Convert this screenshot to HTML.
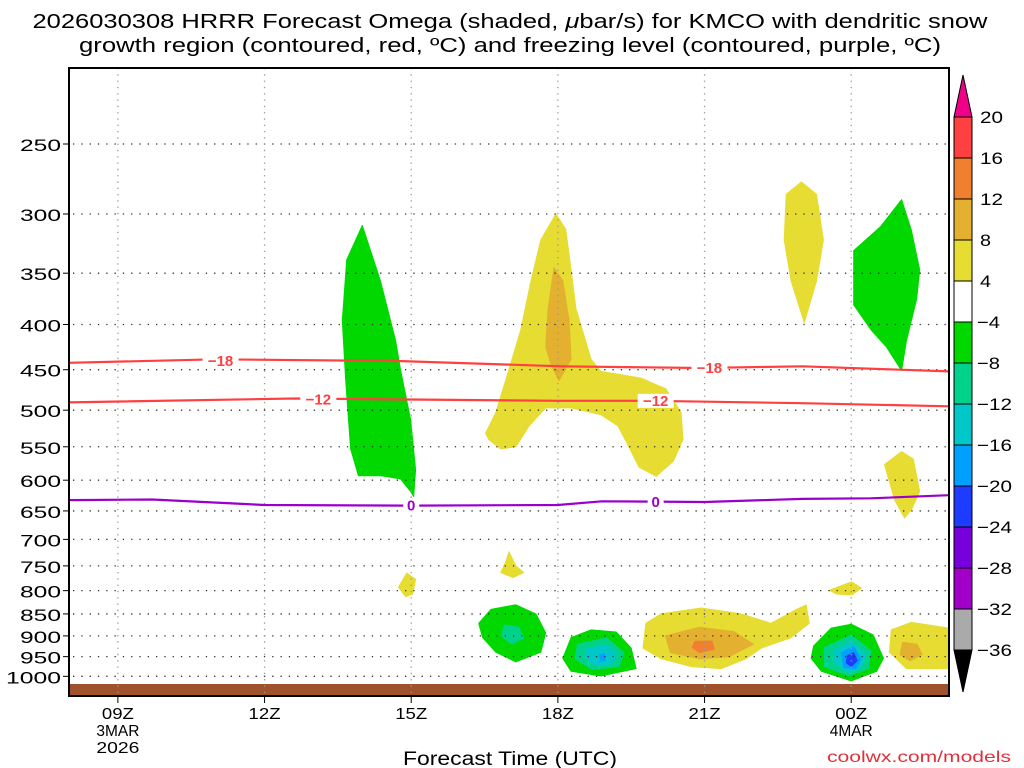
<!DOCTYPE html>
<html><head><meta charset="utf-8">
<style>
html,body{margin:0;padding:0;background:#fff;}
svg{display:block;font-family:"Liberation Sans",sans-serif;}
</style></head>
<body>
<svg id="chart" width="1024" height="768" viewBox="0 0 1024 768" xmlns="http://www.w3.org/2000/svg">
  <g font-size="20" fill="#000" text-anchor="middle">
    <text x="510" y="28" textLength="955" lengthAdjust="spacingAndGlyphs">2026030308 HRRR Forecast Omega (shaded, <tspan font-style="italic">μ</tspan>bar/s) for KMCO with dendritic snow</text>
    <text x="510" y="52" textLength="862" lengthAdjust="spacingAndGlyphs">growth region (contoured, red, ºC) and freezing level (contoured, purple, ºC)</text>
  </g>
  <g id="shades"></g>
  <rect x="69" y="684" width="880" height="12" fill="#a0522d"/>
  <g id="grid"></g>
  <g id="lines"></g>
  <rect x="69" y="68" width="880" height="628" fill="none" stroke="#000" stroke-width="2"/>
  <g id="axes" font-size="17" fill="#000"></g>
  <text x="510" y="765" font-size="19" text-anchor="middle" textLength="214" lengthAdjust="spacingAndGlyphs">Forecast Time (UTC)</text>
  <text x="1011" y="762" font-size="16" fill="#e0303c" text-anchor="end" textLength="184" lengthAdjust="spacingAndGlyphs">coolwx.com/models</text>
  <g id="cbar" font-size="17"></g>
</svg>
<script>
const NS='http://www.w3.org/2000/svg';
// ---- data ----
const pressureTicks=[250,300,350,400,450,500,550,600,650,700,750,800,850,900,950,1000];
const timeTicks=[9,12,15,18,21,24];
const timeLabels=[['09Z','3MAR','2026'],['12Z'],['15Z'],['18Z'],['21Z'],['00Z','4MAR']];
const lineHours=[8,11,14.8,18.06,20.9,23,26];
const minus18P=[442,438,440,446,448,446,452];
const minus12Hours=[8,12.6,18.06,19.9,23,26];
const minus12P=[490,485,488,488,491,495];
const freezeHours=[8,9.7,12,15,18,18.9,21,23,24.4,26];
const freezeP=[632,631,640,641,640,634,635,630,629,624];
const lineLabels=[['-18',11.1,440,'#ff4040'],['-18',21.1,448,'#ff4040'],['-12',13.1,486,'#ff4040'],['-12',20.0,488,'#ff4040'],['0',15,641,'#9900cc'],['0',20.0,635,'#9900cc']];
const cbLevels=['20','16','12','8','4','-4','-8','-12','-16','-20','-24','-28','-32','-36'];
const cbColors=['#ff4040','#f08030','#e3b030','#e6dc32','#ffffff','#00d800','#00d28c','#00c8c8','#00a0ff','#1e3cff','#7800dc','#a000c8','#aaaaaa'];
const C={y:'#e6dc32',o:'#e3b030',r:'#f08030',g:'#00d800',t:'#00d28c',c:'#00c8c8',b:'#00a0ff',d:'#1e3cff'};
const blobs=[
 ['g',[[14.0,309],[14.37,357],[14.68,417],[14.78,450],[14.99,513],[15.09,584],[15.05,626],[14.99,618],[14.78,598],[14.37,593],[13.92,593],[13.76,553],[13.66,463],[13.59,396],[13.68,338]]],
 ['y',[[17.96,300],[18.16,312],[18.27,347],[18.37,384],[18.68,438],[18.88,452],[19.70,460],[20.21,473],[20.52,503],[20.56,540],[20.36,571],[20.01,594],[19.66,580],[19.43,547],[19.23,521],[18.88,506],[18.27,497],[17.75,497],[17.41,521],[17.14,550],[16.83,553],[16.59,540],[16.52,531],[16.73,503],[16.93,463],[17.24,406],[17.45,357],[17.65,321]]],
 ['o',[[17.92,345],[18.10,357],[18.23,396],[18.27,438],[18.02,463],[17.86,444],[17.75,424],[17.80,384]]],
 ['y',[[22.98,276],[23.29,285],[23.43,321],[23.29,357],[23.04,398],[22.77,357],[22.63,321],[22.67,285]]],
 ['g',[[25.03,289],[25.23,313],[25.40,347],[25.34,374],[25.13,417],[25.03,451],[24.72,424],[24.41,406],[24.05,380],[24.05,330],[24.6,310]]],
 ['y',[[25.03,557],[25.27,568],[25.40,618],[25.23,648],[25.09,662],[24.89,632],[24.68,576]]],
 ['y',[[14.91,764],[15.09,777],[15.03,807],[14.89,813],[14.74,793]]],
 ['y',[[17.0,723],[17.14,750],[17.30,763],[17.08,773],[16.83,763],[16.93,743]]],
 ['y',[[23.55,799],[24.01,782],[24.21,795],[24.01,809],[23.70,807]]],
 ['g',[[16.38,871],[16.63,840],[17.14,830],[17.55,850],[17.75,893],[17.65,939],[17.14,963],[16.73,939],[16.46,904]]],
 ['t',[[16.9,875],[17.2,880],[17.3,905],[17.05,920],[16.85,900]]],
 ['g',[[18.27,904],[18.68,886],[19.19,891],[19.50,929],[19.60,980],[18.88,999],[18.27,987],[18.10,954]]],
 ['t',[[18.4,920],[19.0,905],[19.35,940],[19.25,975],[18.7,982],[18.35,955]]],
 ['c',[[18.6,930],[19.0,922],[19.2,945],[19.1,968],[18.75,972],[18.55,950]]],
 ['b',[[18.85,945],[18.95,943],[18.97,960],[18.87,962]]],
 ['y',[[19.80,871],[20.11,850],[20.93,837],[21.75,850],[22.36,871],[22.88,840],[23.08,830],[23.14,871],[22.77,904],[22.16,929],[21.85,955],[21.34,980],[20.73,975],[20.11,955],[19.74,929]]],
 ['o',[[20.2,900],[20.9,880],[21.6,890],[22.0,920],[21.5,950],[20.9,955],[20.3,940]]],
 ['r',[[20.8,913],[21.15,912],[21.2,932],[20.9,940],[20.75,928]]],
 ['g',[[23.23,924],[23.59,882],[24.0,873],[24.45,898],[24.66,954],[24.52,987],[24.0,1012],[23.39,987],[23.18,954]]],
 ['t',[[23.45,928],[24.0,898],[24.4,935],[24.35,980],[23.95,998],[23.45,975]]],
 ['c',[[23.65,935],[24.0,912],[24.3,945],[24.2,978],[23.95,990],[23.65,965]]],
 ['b',[[23.8,940],[24.05,925],[24.2,955],[24.1,980],[23.85,978]]],
 ['d',[[23.92,948],[24.05,940],[24.12,960],[24.0,975],[23.9,965]]],
 ['y',[[24.82,886],[25.23,869],[26,882],[26,980],[25.13,980],[24.78,939]]],
 ['o',[[25.05,915],[25.35,920],[25.45,945],[25.2,960],[25.0,945]]]
];
// ---- axes ----
const X0=69,X1=949,H0=8,H1=26;
function xs(h){return X0+(h-H0)*(X1-X0)/(H1-H0);}
function ys(p){return 144+384*Math.log(p/250);}
function mk(tag,attrs,parent){const e=document.createElementNS(NS,tag);for(const k in attrs)e.setAttribute(k,attrs[k]);parent.appendChild(e);return e;}
const shades=document.getElementById('shades');
blobs.forEach((b,i)=>{
  const pts=b[1].map(q=>xs(q[0]).toFixed(1)+','+ys(q[1]).toFixed(1)).join(' ');
  const el=mk('polygon',{points:pts,fill:C[b[0]],'stroke':C[b[0]],'stroke-width':'1','stroke-linejoin':'round'},shades);
  
  
});
const grid=document.getElementById('grid'),axes=document.getElementById('axes');
pressureTicks.forEach(p=>{
  const y=ys(p);
  const l=mk('line',{x1:X0+4,x2:X1,y1:y,y2:y,stroke:'#333','stroke-width':'1.3','stroke-dasharray':'1.3,7'},grid);
  
  
  mk('line',{x1:X0-6,x2:X0,y1:y,y2:y,stroke:'#000'},axes);
  const s=String(p);
  const t=mk('text',{x:X0-8,y:y+7,'text-anchor':'end',textLength:s.length*14-1,lengthAdjust:'spacingAndGlyphs'},axes);
  t.textContent=s;
  
  
});
timeTicks.forEach((h,i)=>{
  const x=xs(h);
  const l=mk('line',{x1:x,x2:x,y1:68,y2:696,stroke:'#999','stroke-width':'1.3','stroke-dasharray':'1.3,5'},grid);
  
  
  mk('line',{x1:x,x2:x,y1:696,y2:703,stroke:'#000'},axes);
  timeLabels[i].forEach((s,j)=>{
    const t=mk('text',{x:x,y:719+j*17,'text-anchor':'middle','font-size':'16',textLength:s.length*11-1,lengthAdjust:'spacingAndGlyphs'},axes);
    t.textContent=s;
    
    
  });
});
const lines=document.getElementById('lines');
function drawLine(hs,ps,col,name){
  const el=mk('polyline',{points:hs.map((h,i)=>xs(h).toFixed(1)+','+ys(ps[i]).toFixed(1)).join(' '),fill:'none',stroke:col,'stroke-width':'2.2'},lines);
  
  
}
drawLine(lineHours,minus18P,'#ff4040','minus18-contour');
drawLine(minus12Hours,minus12P,'#ff4040','minus12-contour');
drawLine(freezeHours,freezeP,'#9900cc','freezing-level-contour');
lineLabels.forEach(L=>{
  const x=xs(L[1]),y=ys(L[2]);
  mk('rect',{x:x-(L[0].length*5+3),y:y-7,width:L[0].length*10+6,height:14,fill:'#fff'},lines);
  const t=mk('text',{x:x,y:y+5,'text-anchor':'middle','font-size':'15','font-weight':'bold',fill:L[3]},lines);
  t.textContent=L[0].replace('-','−');
  
  
});
// colorbar
const cb=document.getElementById('cbar');
const CBX=954,CBW=18,CBT=117,CBB=650,step=(CBB-CBT)/cbColors.length;
mk('polygon',{points:`${CBX},${CBT} ${CBX+CBW},${CBT} ${CBX+CBW/2},75`,fill:'#ee0088',stroke:'#000'},cb);
mk('polygon',{points:`${CBX},${CBB} ${CBX+CBW},${CBB} ${CBX+CBW/2},692`,fill:'#000',stroke:'#000'},cb);
cbColors.forEach((c,i)=>{
  const r=mk('rect',{x:CBX,y:CBT+i*step,width:CBW,height:step,fill:c,stroke:'#000','stroke-width':'1'},cb);
  
  
});
cbLevels.forEach((s,i)=>{
  const y=CBT+i*step;
  const txt=s.replace('-','−');
  const t=mk('text',{x:s[0]==='-'?977:980,y:y+6,textLength:txt.length*12-1,lengthAdjust:'spacingAndGlyphs'},cb);
  t.textContent=txt;
  
  
});
</script>
</body></html>
